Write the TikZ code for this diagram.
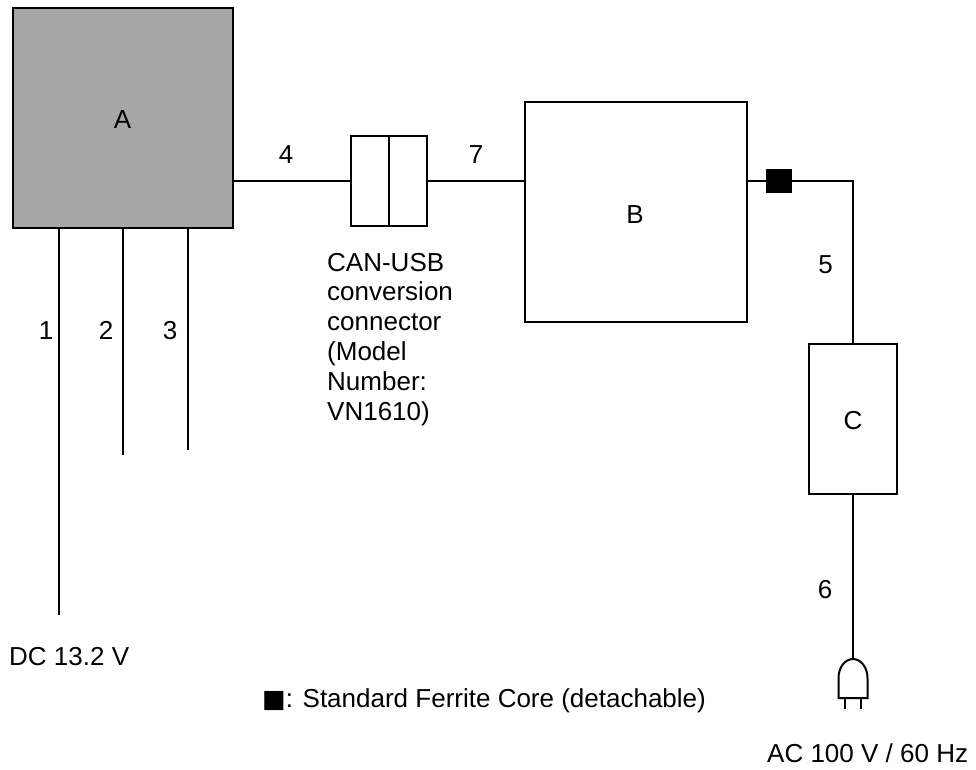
\documentclass[tikz,border=0pt]{standalone}
\usepackage{fontspec}
\setmainfont{Liberation Sans}
\newfontfamily\symfont{DejaVu Sans}
\begin{document}
\begin{tikzpicture}[x=1pt,y=-1pt,
  font=\fontsize{26}{29.8}\selectfont,
  wire/.style={line width=2pt},
  box/.style={draw,line width=2pt,rectangle,inner sep=0pt},
  lbl/.style={inner sep=0pt,anchor=base},
  lblw/.style={inner sep=0pt,anchor=base west}]
\useasboundingbox (0,0) rectangle (976,769);
% devices
\node[box,fill={rgb,255:red,166;green,166;blue,166},minimum width=220pt,minimum height=220pt] (A) at (122.7,117.5) {};
\node[box,minimum width=76pt,minimum height=90pt] (conn) at (389,181) {};
\draw[wire] (conn.north) -- (conn.south);
\node[box,minimum width=222pt,minimum height=220pt] (B) at (636,212) {};
\node[box,minimum width=88pt,minimum height=150pt] (C) at (853,419) {};
\node[rectangle,fill=black,inner sep=0pt,minimum width=26pt,minimum height=24pt] (fc) at (779,181) {};
% cable ends
\coordinate (e1) at (59,615);
\coordinate (e2) at (123,455);
\coordinate (e3) at (188,450);
\coordinate (corner) at (853,181);
\coordinate (plugtop) at (853,659);
% cables
\draw[wire] (A.south -| e1) -- (e1);
\draw[wire] (A.south -| e2) -- (e2);
\draw[wire] (A.south -| e3) -- (e3);
\draw[wire] (A.east |- conn.west) -- (conn.west);
\draw[wire] (conn.east) -- (conn.east -| B.west);
\draw[wire] (B.east |- fc.west) -- (fc.west);
\draw[wire] (fc.east) -- (corner) -- (C.north);
\draw[wire] (C.south) -- (plugtop);
% plug
\draw[wire] (838.5,698) -- (838.5,678) arc[start angle=180,end angle=360,x radius=14.5,y radius=19] -- (867.5,698) -- cycle;
\draw[wire] (845,698) -- (845,709);
\draw[wire] (861,698) -- (861,709);
% labels
\node[lbl] (tA) at (122.5,128) {A};
\node[lbl] (tB) at (635,223.5) {B};
\node[lbl] (tC) at (853,429) {C};
\node[lbl] (t1) at (46,339) {1};
\node[lbl] (t2) at (106,339) {2};
\node[lbl] (t3) at (170,339) {3};
\node[lbl] (t4) at (286,163) {4};
\node[lbl] (t7) at (476,163) {7};
\node[lbl] (t5) at (825.5,273) {5};
\node[lbl] (t6) at (825,598) {6};
\node[lblw,align=left] (tconn) at (327,420) {CAN-USB\\conversion\\connector\\(Model\\Number:\\VN1610)};
\node[lblw] (tdc) at (9,665) {DC 13.2 V};
\node[lblw] (tleg) at (262,707) {{\symfont\fontsize{25}{29.8}\selectfont ■}: Standard Ferrite Core (detachable)};
\node[lblw] (tac) at (767,762) {AC 100 V / 60 Hz};
\end{tikzpicture}
\end{document}
